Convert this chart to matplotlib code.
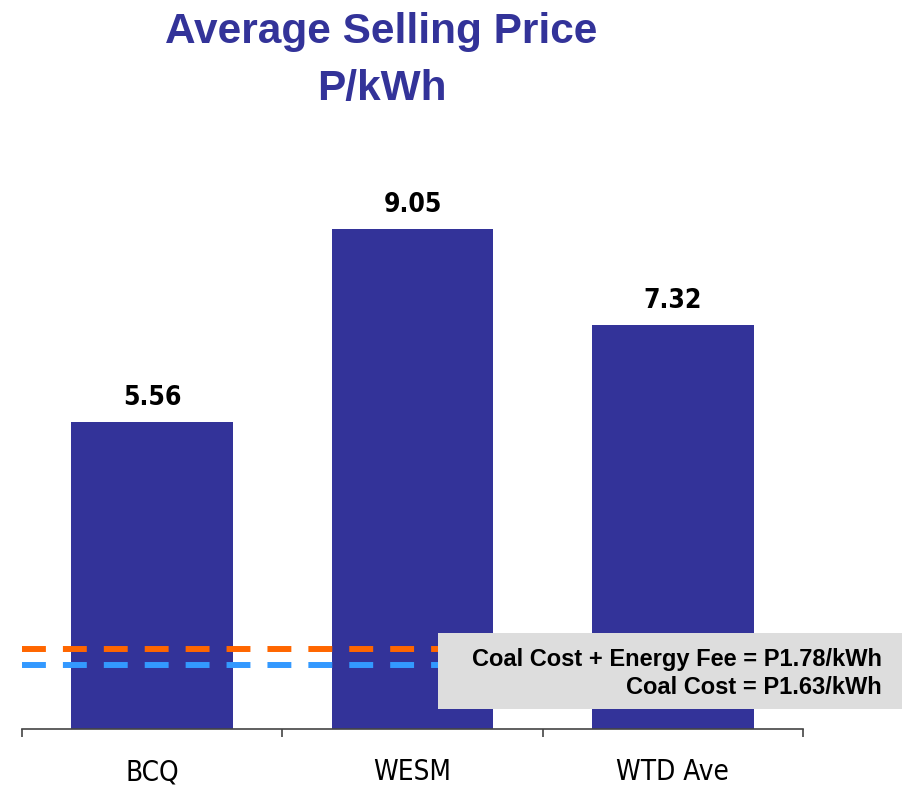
import numpy as np
import matplotlib
matplotlib.use("Agg")
from matplotlib import pyplot as plt
from matplotlib.patches import Rectangle

# 数据
categories = ["BCQ", "WESM", "WTD Ave"]
prices = [5.56, 9.05, 7.32]
ref_labels = ["Coal Cost + Energy Fee = P1.78/kWh", "Coal Cost = P1.63/kWh"]
ref_levels = [1.45, 1.16]  # 虚线在图上的位置
ref_colors = ["#FF6600", "#3399FF"]

bar_color = "#333399"
narrow = ["DejaVu Sans"]
wide = ["Liberation Sans", "DejaVu Sans"]

W, H = 907, 787
fig = plt.figure(figsize=(W/100, H/100), dpi=100)
ax = fig.add_axes([22/W, 58/H, 781/W, 552.5/H])

x = np.arange(len(categories))
ax.bar(x, prices, width=0.62, color=bar_color, zorder=2)
for xi, v in zip(x, prices):
    ax.annotate("%.2f" % v, xy=(xi, v), xytext=(0, 12.2), textcoords="offset points",
                ha="center", va="baseline", fontsize=19, fontweight="bold",
                family=narrow, fontstretch="condensed")

# 虚线
for lvl, c in zip(ref_levels, ref_colors):
    ax.plot([-0.5, 2.5], [lvl, lvl], color=c, lw=4.3, dashes=(4, 2.85),
            solid_capstyle="butt", dash_capstyle="butt", zorder=3)

ax.set_xlim(-0.5, 2.5)
ax.set_ylim(0, 10)
for s in ["top", "right", "left"]:
    ax.spines[s].set_visible(False)
ax.spines["bottom"].set_color("#444444")
ax.spines["bottom"].set_linewidth(1.2)
ax.set_yticks([])
ax.set_xticks(x)
ax.set_xticklabels(categories, fontsize=20, family=narrow, fontstretch="condensed")
ax.tick_params(axis="x", which="major", length=0, pad=21)
ax.set_xticks([-0.5, 0.5, 1.5, 2.5], minor=True)
ax.tick_params(axis="x", which="minor", length=6, width=1.2, color="#444444", direction="out")

# 灰色说明框
box = Rectangle((438/W, 1 - 709/H), (902-438)/W, (709-633)/H, transform=fig.transFigure,
                facecolor="#DDDDDD", edgecolor="none", zorder=5)
fig.patches.append(box)
fig.text(882/W, 1 - 666/H, ref_labels[0], ha="right", va="baseline", fontsize=17,
         fontweight="bold", family=wide, zorder=6)
fig.text(882/W, 1 - 694/H, ref_labels[1], ha="right", va="baseline", fontsize=17,
         fontweight="bold", family=wide, zorder=6)

# 标题
fig.text(381.5/W, 1 - 43/H, "Average Selling Price", ha="center", va="baseline",
         fontsize=30.5, fontweight="bold", color=bar_color, family=wide)
fig.text(381.5/W, 1 - 100/H, "P/kWh", ha="center", va="baseline",
         fontsize=30.5, fontweight="bold", color=bar_color, family=wide)

plt.savefig("out.png", dpi=100)
